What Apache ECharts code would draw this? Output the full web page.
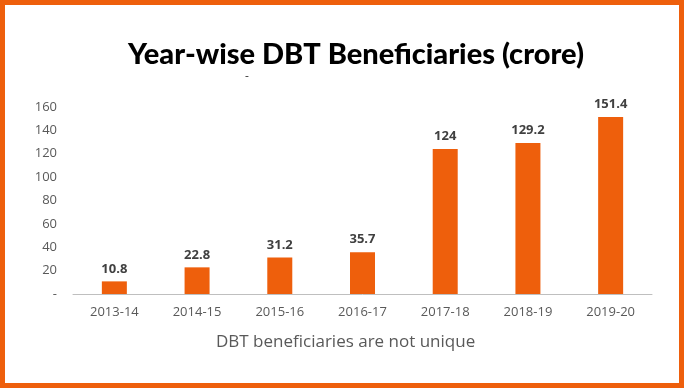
<!DOCTYPE html>
<html><head><meta charset="utf-8">
<script src="https://cdn.jsdelivr.net/npm/echarts@6/dist/echarts.min.js"></script>
<style>html,body{margin:0;padding:0;background:#fff}#c{width:684px;height:388px}</style>
</head><body><div id="c"></div>
<script>
const categories = ['2013-14','2014-15','2015-16','2016-17','2017-18','2018-19','2019-20'];
const values = [10.8, 22.8, 31.2, 35.7, 124, 129.2, 151.4];
const yTicks = [0, 20, 40, 60, 80, 100, 120, 140, 160];
const orange = '#EE5F0C';
const chart = echarts.init(document.getElementById('c'), null, {renderer: 'canvas'});
chart.setOption({
  backgroundColor: '#fff',
  animation: false,
  title: {
    text: 'Year-wise DBT Beneficiaries (crore)',
    left: 351, top: 35, textAlign: 'center',
    textStyle: {fontFamily: 'Lato', fontWeight: 900, fontSize: 29, color: '#000'}
  },
  graphic: [
    {type: 'rect', shape: {x: 2.5, y: 2.5, width: 679, height: 383}, style: {fill: 'none', stroke: orange, lineWidth: 5}, silent: true},
    {type: 'text', left: 245, top: 71, style: {text: '-', fontSize: 12, fill: '#404040', fontFamily: 'Open Sans'}},
    {type: 'text', left: 216, top: 334, style: {text: 'DBT beneficiaries are not unique', fontSize: 17, fill: '#595959', fontFamily: 'Open Sans'}}
  ],
  grid: {left: 73, right: 32, top: 107, bottom: 94},
  xAxis: {
    type: 'category', data: categories,
    axisLine: {lineStyle: {color: '#BFBFBF', width: 1}},
    axisTick: {show: false},
    axisLabel: {color: '#595959', fontSize: 13, fontFamily: 'Open Sans', margin: 12}
  },
  yAxis: {
    type: 'value', min: yTicks[0], max: yTicks[yTicks.length-1], interval: 20,
    splitLine: {show: false}, axisLine: {show: false}, axisTick: {show: false},
    axisLabel: {color: '#595959', fontSize: 13, fontFamily: 'Open Sans', margin: 16,
      formatter: v => v === 0 ? '-' : String(v)}
  },
  series: [{
    type: 'bar', data: values, barWidth: 25,
    itemStyle: {color: orange},
    label: {show: true, position: 'top', distance: 6, color: '#404040', fontWeight: 'bold', fontSize: 13, fontFamily: 'Open Sans'}
  }]
});
</script></body></html>
